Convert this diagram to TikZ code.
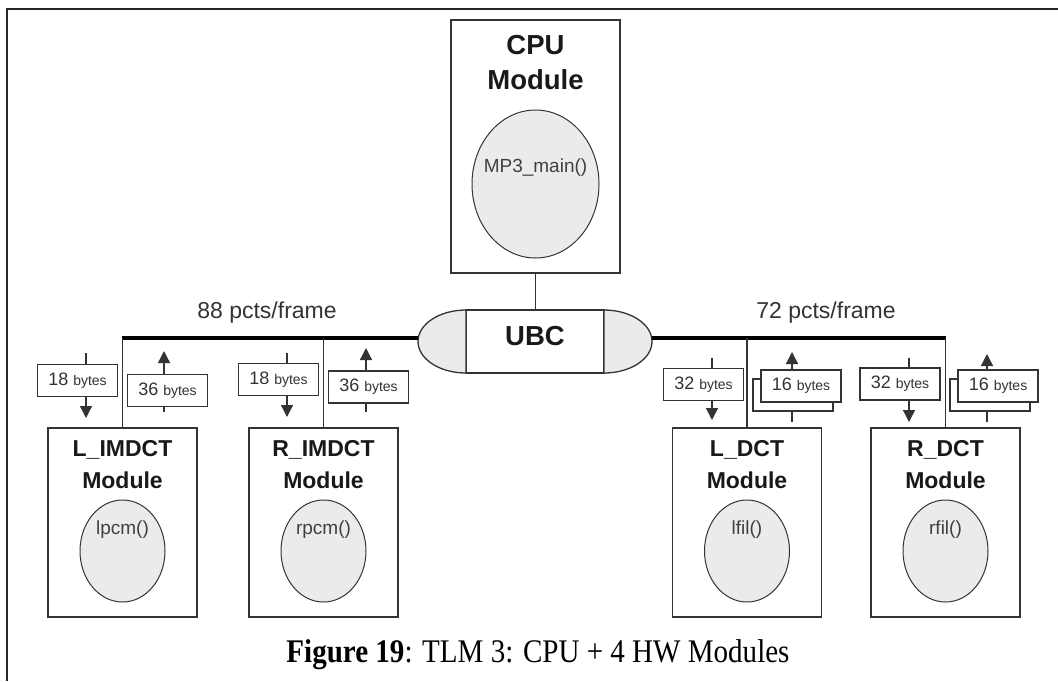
\documentclass[tikz,border=0pt]{standalone}
\usepackage{fontspec}
\setmainfont{Liberation Serif}
\newfontfamily\arial{Liberation Sans}
\usetikzlibrary{shapes.geometric,arrows.meta}
\newcommand\nbytes[1]{#1 {\fontsize{14}{14}\selectfont bytes}}

\begin{document}
\begin{tikzpicture}[x=1pt,y=-1pt,
  every node/.style={inner sep=0pt, outer sep=0pt},
  modbox/.style={draw=black!80, line width=1.3pt, fill=white, minimum width=149pt, minimum height=189pt},
  cpubox/.style={modbox, minimum width=169pt, minimum height=253pt},
  func/.style={ellipse, draw=black!80, line width=1pt, fill=black!8, minimum width=85pt, minimum height=102pt},
  title/.style={font=\arial\bfseries\fontsize{23}{23}\selectfont, text=black!90, anchor=base},
  bigtitle/.style={title, font=\arial\bfseries\fontsize{27.5}{27.5}\selectfont},
  ftext/.style={font=\arial\fontsize{19}{19}\selectfont, text=black!75, anchor=base},
  pkt/.style={draw=black!80, line width=1.2pt, fill=white, minimum width=80pt, minimum height=32pt,
    font=\arial\fontsize{18}{18}\selectfont, text=black!80},
  pktback/.style={draw=black!80, line width=1.2pt, fill=white, minimum width=80pt, minimum height=32pt},
  wire/.style={draw=black!80, line width=1.3pt},
  bus/.style={draw=black, line width=4.5pt},
  tipdown/.style={wire, -{Triangle[length=12pt,width=12pt]}},
  capfill/.style={draw=black!80, line width=1.3pt, fill=black!8},
  pct/.style={font=\arial\fontsize{23}{23}\selectfont, text=black!80, anchor=base},
]
\useasboundingbox (0,0) rectangle (1058,681);

% page frame
\draw[line width=2pt, black!85] (7,681) -- (7,9) -- (1058,9);

% CPU module
\node[cpubox] (cpu) at (535.5,146.5) {};
\node[bigtitle] (cpuT) at (535.5,54) {CPU};
\node[bigtitle] (cpuM) at (535.5,89) {Module};
\node[func, minimum width=127pt, minimum height=148pt] (cpuF) at (535.5,184) {};
\node[ftext] (cpuFT) at (535.5,172) {MP3\_main()};

% UBC
\node[draw=black!80, line width=1.3pt, fill=white, minimum width=138pt, minimum height=63pt] (ubc) at (535,341.5) {};
\filldraw[capfill] (ubc.north west) arc[start angle=270, end angle=90, x radius=48, y radius=31.5] -- cycle;
\filldraw[capfill] (ubc.north east) arc[start angle=-90, end angle=90, x radius=48, y radius=31.5] -- cycle;
\node[bigtitle] (ubcT) at (535,345.5) {UBC};
\coordinate (busL) at (418,338);
\coordinate (busR) at (652,338);
\draw[wire] (cpu.south) -- (ubc.north -| cpu.south);

% HW modules
\foreach \nm/\x/\ta/\fn in {limdct/122.5/L\_IMDCT/lpcm(), rimdct/323.5/R\_IMDCT/rpcm(), ldct/747/L\_DCT/lfil(), rdct/945.5/R\_DCT/rfil()}{
  \node[modbox] (\nm) at (\x,522.5) {};
  \node[title] (\nm T) at (\x,456) {\ta};
  \node[title] (\nm M) at (\x,488) {Module};
  \node[func] (\nm F) at (\x,551) {};
  \node[ftext] (\nm FT) at (\x,534) {\fn};
}

% buses
\draw[bus] ([xshift=-0.65pt]limdct.north |- busL) -- (busL);
\draw[bus] (busR) -- ([xshift=0.65pt]rdct.north |- busR);
\node[pct] (lpct) at (267,318) {88 pcts/frame};
\node[pct] (rpct) at (826,318) {72 pcts/frame};
\foreach \nm in {limdct, rimdct, ldct, rdct}
  \draw[wire] (\nm.north) -- (\nm.north |- busL);

% packet transfers: L_IMDCT
\coordinate (a1s) at (86,353); \coordinate (a1e) at (86,418);
\draw[tipdown] (a1s) -- (a1e);
\node[pkt] (p1) at (77.5,380.5) {\nbytes{18}};
\coordinate (a2s) at (164,412); \coordinate (a2e) at (164,351);
\draw[tipdown] (a2s) -- (a2e);
\node[pkt] (p2) at (167.5,390.5) {\nbytes{36}};

% packet transfers: R_IMDCT
\coordinate (a3s) at (287,353); \coordinate (a3e) at (287,417);
\draw[tipdown] (a3s) -- (a3e);
\node[pkt] (p3) at (278.5,379.5) {\nbytes{18}};
\coordinate (a4s) at (366,412); \coordinate (a4e) at (366,348);
\draw[tipdown] (a4s) -- (a4e);
\node[pkt] (p4) at (368.5,387) {\nbytes{36}};

% packet transfers: L_DCT
\coordinate (a5s) at (712,358); \coordinate (a5e) at (712,420);
\draw[tipdown] (a5s) -- (a5e);
\node[pkt] (p5) at (703.5,384.5) {\nbytes{32}};
\coordinate (a6s) at (792,422); \coordinate (a6e) at (792,352);
\draw[tipdown] (a6s) -- (a6e);
\node[pktback] (p6b) at (793,395) {};
\node[pkt] (p6) at (801,386) {\nbytes{16}};

% packet transfers: R_DCT
\coordinate (a7s) at (909,358); \coordinate (a7e) at (909,422);
\draw[tipdown] (a7s) -- (a7e);
\node[pkt] (p7) at (900,384) {\nbytes{32}};
\coordinate (a8s) at (987,422); \coordinate (a8e) at (987,354);
\draw[tipdown] (a8s) -- (a8e);
\node[pktback] (p8b) at (990,395) {};
\node[pkt] (p8) at (998,386) {\nbytes{16}};

% caption
\node[anchor=base, xscale=0.88, font=\fontsize{33}{33}\selectfont] (cap) at (538,662) {\textbf{Figure 19}: TLM 3: CPU + 4 HW Modules};
\end{tikzpicture}
\end{document}
